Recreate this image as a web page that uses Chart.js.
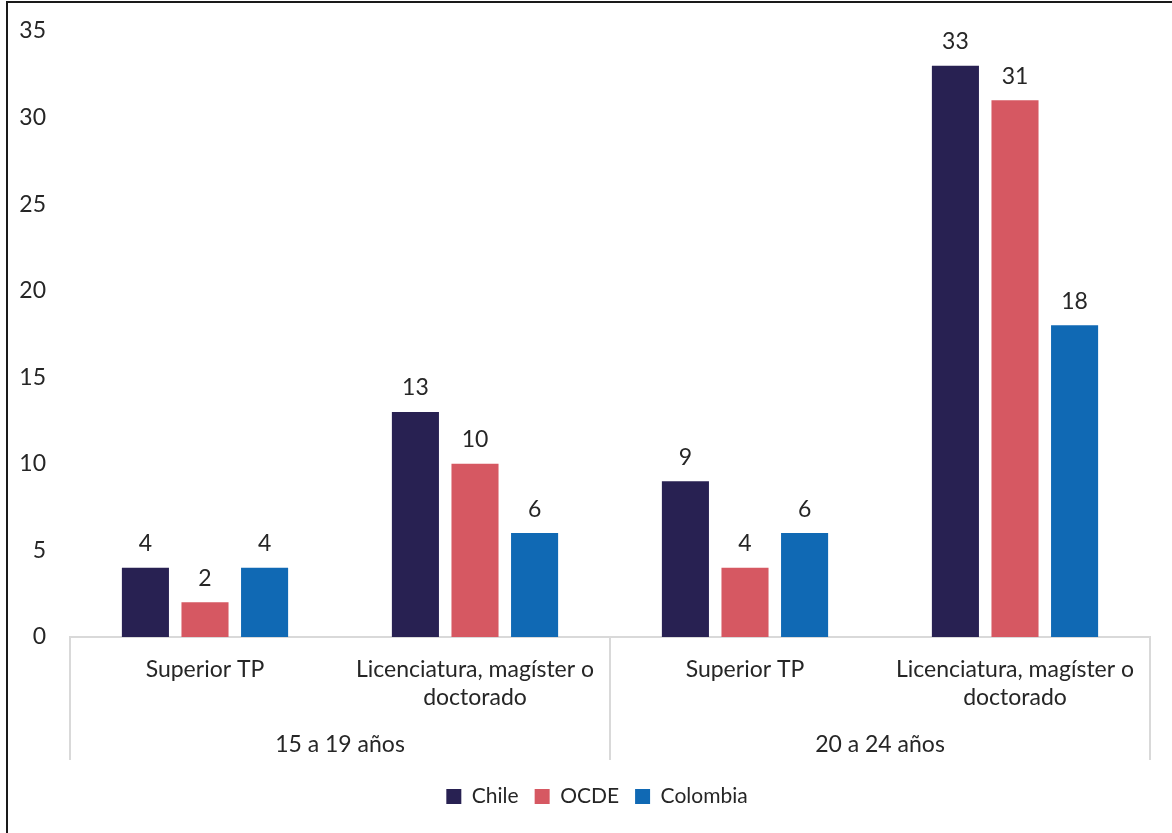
<!DOCTYPE html>
<html>
<head>
<meta charset="utf-8">
<script src="https://cdn.jsdelivr.net/npm/chart.js@4/dist/chart.umd.min.js"></script>
<style>
  html, body { margin: 0; padding: 0; background: #fff; }
  #wrap { width: 1172px; height: 833px; position: relative; }
</style>
</head>
<body>
<div id="wrap"><canvas id="c" width="1172" height="833"></canvas></div>
<script>
// Nivel educativo por grupo de edad
const categories = [
  ["Superior TP"],
  ["Licenciatura, magíster o", "doctorado"],
  ["Superior TP"],
  ["Licenciatura, magíster o", "doctorado"]
];
const ageGroups = ["15 a 19 años", "20 a 24 años"];
const chile = [4, 13, 9, 33];
const ocde = [2, 10, 4, 31];
const colombia = [4, 6, 6, 18];
const seriesNames = ["Chile", "OCDE", "Colombia"];
const seriesColors = ["#282152", "#D65862", "#1069B4"];
const yTicks = [0, 5, 10, 15, 20, 25, 30, 35];

const FONT = "Lato, 'Open Sans', sans-serif";
const FSIZE = 23;
const TEXT = "#262626";
const AXIS = "#d9d9d9";

// Value labels above each bar
const valueLabels = {
  id: 'valueLabels',
  afterDatasetsDraw(chart) {
    const ctx = chart.ctx;
    ctx.save();
    ctx.font = FSIZE + "px " + FONT;
    ctx.fillStyle = TEXT;
    ctx.textAlign = "center";
    ctx.textBaseline = "middle";
    chart.data.datasets.forEach((ds, i) => {
      chart.getDatasetMeta(i).data.forEach((bar, j) => {
        ctx.fillText(String(ds.data[j]), bar.x, bar.y - 24);
      });
    });
    ctx.restore();
  }
};

// Age-group row under the category labels, with separators
const groupAxis = {
  id: 'groupAxis',
  afterLayout(chart) {
    // centre the legend row on the framed area
    if (chart.legend) { chart.legend.left += 22; chart.legend.right += 22; }
  },
  afterDraw(chart) {
    const ctx = chart.ctx;
    const x = chart.scales.x;
    const area = chart.chartArea;
    const per = categories.length / ageGroups.length;
    const step = (x.getPixelForValue(1) - x.getPixelForValue(0));
    const edges = [];
    for (let g = 0; g <= ageGroups.length; g++) {
      edges.push(x.getPixelForValue(g * per) - step / 2);
    }
    ctx.save();
    ctx.strokeStyle = AXIS;
    ctx.lineWidth = 2;
    edges.forEach(px => {
      ctx.beginPath();
      ctx.moveTo(Math.round(px), area.bottom);
      ctx.lineTo(Math.round(px), area.bottom + 123);
      ctx.stroke();
    });
    ctx.font = FSIZE + "px " + FONT;
    ctx.fillStyle = TEXT;
    ctx.textAlign = "center";
    ctx.textBaseline = "middle";
    ageGroups.forEach((g, i) => {
      ctx.fillText(g, (edges[i] + edges[i + 1]) / 2, area.bottom + 108);
    });
    // frame lines
    ctx.strokeStyle = "#1a1a1a";
    ctx.lineWidth = 2;
    ctx.beginPath();
    ctx.moveTo(7, 833);
    ctx.lineTo(7, 2);
    ctx.lineTo(1172, 2);
    ctx.stroke();
    ctx.restore();
  }
};

new Chart(document.getElementById('c'), {
  type: 'bar',
  data: {
    labels: categories,
    datasets: [
      { label: seriesNames[0], data: chile, backgroundColor: seriesColors[0] },
      { label: seriesNames[1], data: ocde, backgroundColor: seriesColors[1] },
      { label: seriesNames[2], data: colombia, backgroundColor: seriesColors[2] }
    ]
  },
  options: {
    responsive: false,
    animation: false,
    maintainAspectRatio: false,
    layout: { padding: { top: 31, right: 22, left: 0, bottom: 16 } },
    datasets: { bar: { categoryPercentage: 0.662, barPercentage: 0.79 } },
    plugins: {
      tooltip: { enabled: false },
      legend: {
        position: 'bottom',
        labels: {
          font: { family: FONT, size: 21 },
          color: TEXT,
          boxWidth: 15,
          boxHeight: 15,
          padding: 16
        }
      }
    },
    scales: {
      x: {
        grid: { display: false, drawTicks: false },
        border: { display: true, color: AXIS, width: 2 },
        ticks: {
          font: { family: FONT, size: FSIZE, lineHeight: 28 / FSIZE },
          color: TEXT,
          padding: 19,
          maxRotation: 0,
          autoSkip: false
        },
        afterFit(scale) { scale.height = 133; scale.paddingLeft = 0; scale.paddingRight = 0; }
      },
      y: {
        min: 0,
        max: 35,
        grid: { display: false, drawTicks: false },
        border: { display: false },
        afterBuildTicks(scale) { scale.ticks = yTicks.map(v => ({ value: v })); },
        ticks: {
          font: { family: FONT, size: FSIZE },
          color: TEXT,
          padding: 24
        },
        afterFit(scale) { scale.width = 70; scale.paddingTop = 0; scale.paddingBottom = 0; }
      }
    }
  },
  plugins: [valueLabels, groupAxis]
});
</script>
</body>
</html>
